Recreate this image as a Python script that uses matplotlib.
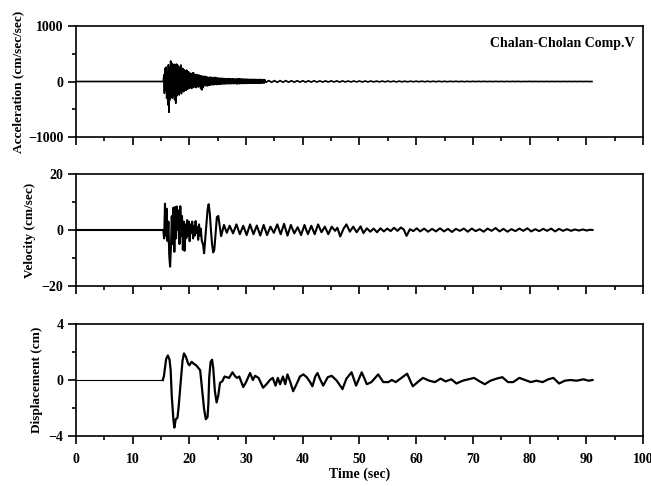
import numpy as np
import matplotlib.pyplot as plt
from matplotlib.ticker import MultipleLocator

plt.rcParams['font.family'] = ['Liberation Serif', 'DejaVu Serif']
plt.rcParams['font.weight'] = 'bold'

# --- acceleration (cm/sec/sec) ---
acc_start = 15.4   # first sample of the strong part
acc_dt = 0.1
acc_dense = [
    0, 120, -213, 237, -150, 260, -300, 180, -420, 300,
    -555, 250, -333, 369, -280, 330, -300, 290, -250, 310,
    -330, 280, -393, 315, -260, 300, -200, 270, -243, 250,
    -190, 297, -220, 240, -170, 230, -183, 210, -150, 190,
    -160, 207, -140, 180, -130, 170, -120, 150, -110, 140,
    -123, 150, -110, 159, -100, 130, -95, 120, -110, 125,
    -90, 110, -100, 117, -85, 105, -130, 100, -153, 95,
    -110, 90, -80, 95, -75, 87, -70, 80, -81, 75,
    -70, 70, -65, 80, -60, 72, -55, 65, -60, 70,
    -55, 75, -50, 68, -55, 60, -48, 62, -45, 58,
    -50, 55, -42, 60, -45, 52, -40, 55, -44, 50,
    -40, 48, -38, 52, -42, 45, -36, 50, -40, 46,
    -38, 44, -35, 48, -40, 42, -34, 46, -38, 40,
    -45, 51, -36, 44, -40, 48, -33, 42, -37, 45,
    -35, 40, -32, 44, -36, 38, -30, 42, -34, 39,
    -31, 37, -33, 40, -29, 36, -32, 38, -28, 35,
    -30, 39, -27, 34, -31, 36, -26, 33, -29, 35,
    -33, 39, -26, 32, -28, 35, -25, 31, -27, 33,
]
tail_start = 33.5
tail_dt = 0.5
acc_tail = [
    -15, 17, -14, 16, -15, 15, -13, 16, -14, 15,
    -13, 15, -12, 14, -12, 13, -11, 14, -11, 12,
    -11, 12, -10, 12, -9, 11, -10, 11, -9, 10,
    -9, 10, -8, 10, -9, 9, -8, 9, -8, 8,
    -7, 8, -7, 8, -6, 7, -7, 7, -6, 6,
    -6, 6, -5, 6, -5, 6, -5, 5, -4, 5,
    -4, 5, -4, 4, -4, 4, -3, 4, -3, 3,
    -3, 3, -3, 3, -2, 3, -2, 3, -2, 2,
    -2, 2, -2, 2, -2, 2, -2, 2, -1, 2,
    -2, 1, -1, 2, -1, 1, -1, 1, -1, 1,
    -1, 1, -1, 1, -1, 1, -1, 1, -1, 1,
    -1, 1, -1, 1, -1, 0,
]

# --- velocity (cm/sec) ---
vel_t = [
    0, 15.3, 15.4, 15.55, 15.7, 15.85, 16.0, 16.15, 16.3, 16.45,
    16.6, 16.75, 16.9, 17.05, 17.2, 17.35, 17.5, 17.65, 17.8, 17.95,
    18.1, 18.25, 18.4, 18.55, 18.7, 18.85, 19.0, 19.15, 19.3, 19.45,
    19.6, 19.75, 19.9, 20.05, 20.2, 20.35, 20.5, 20.65, 20.8, 20.95,
    21.1, 21.25, 21.4, 21.55, 21.7, 21.85, 22.0, 22.2, 22.4, 22.6,
    22.8, 23.0, 23.2, 23.4, 23.6, 23.8, 24.0, 24.2, 24.4, 24.6,
    24.85, 25.1, 25.6, 26.1, 26.6, 27.1, 27.7, 28.3, 28.9, 29.5,
    30.1, 30.7, 31.3, 31.9, 32.5, 33.1, 33.7, 34.3, 34.9, 35.5,
    36.1, 36.7, 37.3, 37.9, 38.5, 39.1, 39.7, 40.3, 40.9, 41.5,
    42.1, 42.7, 43.3, 43.9, 44.5, 45.1, 45.7, 46.1, 46.6, 47.2,
    47.7, 48.3, 48.9, 49.5, 50.2, 50.7, 51.3, 51.9, 52.5, 53.1,
    53.7, 54.3, 54.9, 55.5, 56.1, 56.7, 57.3, 57.8, 58.3, 58.9,
    59.5, 60.1, 60.7, 61.4, 62.1, 62.8, 63.5, 64.2, 64.9, 65.6,
    66.3, 67.0, 67.7, 68.4, 69.1, 69.8, 70.5, 71.2, 71.9, 72.6,
    73.3, 74.0, 74.7, 75.4, 76.1, 76.8, 77.5, 78.2, 78.9, 79.6,
    80.3, 81.0, 81.7, 82.4, 83.1, 83.8, 84.5, 85.2, 85.9, 86.6,
    87.3, 88.0, 88.7, 89.4, 90.1, 90.6, 91.1,
]
vel = [
    0, 0, 0, -3, 9.4, -2, 7.6, -4, 3, -9,
    -13.1, -6, 5, -5, 8, -7.8, 8.2, -3, 8.4, 0,
    7, -5, 8.5, -2, 5, -7, 3, -7.4, 2, -3,
    3.5, -2, 3, -4, 2, -1, 3, -3, 1.5, -2,
    3.2, -1, 1, -3.5, 2, -2, 0.5, -4, -5, -8.3,
    -3, 2, 7, 9.2, 6, 0, -5, -8, -7, -2,
    4.6, 5, -2.2, 1.8, -1.0, 1.5, -1.2, 2.0, -1.5, 1.5,
    -1.8, 2.0, -1.5, 1.6, -2.0, 1.8, -1.8, 1.2, -1.0, 2.0,
    -1.5, 2.2, -2.0, 1.8, -1.2, 1.0, -1.8, 1.8, -1.5, 1.5,
    -1.5, 2.0, -0.8, 1.2, -1.5, 1.2, -0.3, 0.8, -2.3, 0.5,
    2.0, -0.6, 1.2, -0.8, 1.3, -1.1, 0.6, -0.6, 0.5, -0.8,
    0.6, -0.5, 0.5, -0.4, 0.8, -0.3, 0.9, 0.2, -2.1, 0.3,
    -0.4, 0.6, -0.5, 0.5, -0.6, 0.4, -0.5, 0.6, -0.5, 0.4,
    -0.7, 0.4, -0.3, 0.5, -0.6, 0.5, -0.4, 0.3, -0.6, 0.5,
    -0.3, 0.7, -0.5, 0.4, -0.6, 0.3, -0.4, 0.5, -0.3, 0.6,
    -0.5, 0.3, -0.4, 0.4, -0.3, 0.5, -0.5, 0.4, -0.3, 0.3,
    -0.3, 0.2, -0.2, 0.2, -0.2, 0.1, 0.0,
]

# --- displacement (cm) ---
disp_t = [
    0, 15.3, 15.5, 15.9, 16.2, 16.5, 16.7, 16.9, 17.2, 17.35,
    17.6, 17.9, 18.1, 18.5, 18.8, 19.05, 19.4, 19.8, 20.0, 20.4,
    20.8, 21.2, 21.5, 21.9, 22.2, 22.6, 22.9, 23.2, 23.35, 23.5,
    23.75, 24.0, 24.2, 24.5, 24.8, 25.1, 25.4, 25.8, 26.2, 26.6,
    27.0, 27.6, 28.0, 28.4, 28.8, 29.5, 30.0, 30.7, 31.2, 31.6,
    32.2, 33.0, 33.6, 34.2, 34.7, 35.2, 35.6, 36.0, 36.5, 36.9,
    37.3, 37.8, 38.3, 38.9, 39.5, 40.1, 40.7, 41.3, 41.7, 42.2,
    42.6, 43.0, 43.6, 44.4, 45.1, 46.0, 47.0, 47.7, 48.6, 49.4,
    50.4, 51.3, 52.1, 53.3, 54.2, 55.1, 55.7, 56.4, 57.4, 58.4,
    59.4, 60.4, 61.2, 62.3, 63.3, 64.3, 65.2, 66.2, 67.1, 68.2,
    69.2, 70.2, 71.2, 72.1, 73.1, 74.2, 75.2, 76.2, 77.1, 78.2,
    79.2, 80.2, 81.2, 82.3, 83.3, 84.2, 85.2, 86.2, 87.2, 88.3,
    89.5, 90.4, 91.1,
]
disp = [
    0, 0, 0.25, 1.5, 1.75, 1.45, 0.7, -1.2, -2.9, -3.4,
    -2.8, -2.7, -1.95, 0.0, 1.4, 1.9, 1.65, 1.15, 1.05, 1.3,
    1.15, 1.05, 0.9, 0.7, -0.5, -2.1, -2.8, -2.65, -1.7, 0.2,
    1.3, 1.45, 0.9, -0.8, -1.6, -1.1, -0.2, -0.1, 0.25, 0.2,
    0.15, 0.55, 0.3, 0.15, 0.25, -0.5, -0.15, 0.5, 0.0, 0.3,
    0.15, -0.55, -0.3, 0.0, 0.15, -0.4, 0.15, -0.3, 0.25, -0.3,
    0.4, -0.15, -0.8, -0.3, 0.25, 0.4, 0.2, -0.15, -0.45, 0.25,
    0.5, 0.1, -0.4, 0.2, 0.3, -0.05, -0.65, 0.1, 0.55, -0.4,
    0.55, -0.3, -0.15, 0.4, -0.15, -0.15, 0.0, -0.15, 0.15, 0.45,
    -0.45, -0.1, 0.15, -0.05, -0.15, 0.1, -0.1, 0.05, -0.25, -0.05,
    0.05, 0.15, -0.1, -0.3, -0.05, 0.1, 0.2, -0.15, -0.15, 0.15,
    0.0, -0.15, -0.05, -0.15, 0.05, 0.15, -0.25, -0.05, 0.0, -0.05,
    0.05, -0.05, 0.0,
]

# assemble acceleration time axis from the sampling grid
acc_t = np.concatenate([[0.0],
                        acc_start + acc_dt * np.arange(len(acc_dense)),
                        tail_start + tail_dt * np.arange(len(acc_tail))])
acc = np.concatenate([[0.0], acc_dense, acc_tail])

fig = plt.figure(figsize=(6.51, 4.86), dpi=100)
left, width = 0.1167, 0.871
ax1 = fig.add_axes([left, 0.7181, width, 0.2284])
ax2 = fig.add_axes([left, 0.4115, width, 0.2305])
ax3 = fig.add_axes([left, 0.1029, width, 0.2304])

ax1.plot(acc_t, acc, color='black', lw=1.2)
ax2.plot(vel_t, vel, color='black', lw=1.5)
ax3.plot(disp_t[:2], disp[:2], color='black', lw=0.8)
ax3.plot(disp_t[1:], disp[1:], color='black', lw=1.6)

ax1.set_ylim(-1000, 1000)
ax1.set_yticks([-1000, 0, 1000])
ax1.yaxis.set_minor_locator(MultipleLocator(500))
ax2.set_ylim(-20, 20)
ax2.set_yticks([-20, 0, 20])
ax2.yaxis.set_minor_locator(MultipleLocator(10))
ax3.set_ylim(-4, 4)
ax3.set_yticks([-4, 0, 4])
ax3.yaxis.set_minor_locator(MultipleLocator(2))

ax1.set_ylabel('Acceleration (cm/sec/sec)', fontsize=9.5, fontweight='bold', labelpad=3)
ax2.set_ylabel('Velocity (cm/sec)', fontsize=9.5, fontweight='bold', labelpad=4)
ax3.set_ylabel('Displacement (cm)', fontsize=9.5, fontweight='bold', labelpad=4)
ax3.set_xlabel('Time (sec)', fontsize=10, fontweight='bold', labelpad=1)

for ax in (ax1, ax2, ax3):
    ax.set_xlim(0, 100)
    ax.xaxis.set_major_locator(MultipleLocator(10))
    ax.xaxis.set_minor_locator(MultipleLocator(5))
    ax.tick_params(which='major', direction='out', length=6, width=1.2,
                   labelsize=10, pad=3)
    ax.tick_params(which='minor', direction='out', length=3, width=1.2)
    for s in ax.spines.values():
        s.set_linewidth(1.2)
    for lab in ax.get_xticklabels() + ax.get_yticklabels():
        lab.set_fontweight('bold')

ax1.tick_params(axis='x', labelbottom=False)
ax2.tick_params(axis='x', labelbottom=False)
ax3.tick_params(axis='x', pad=6)

ax1.text(0.985, 0.9, 'Chalan-Cholan Comp.V', transform=ax1.transAxes,
         ha='right', va='top', fontsize=10, fontweight='bold')

plt.savefig('out.png', dpi=100)
